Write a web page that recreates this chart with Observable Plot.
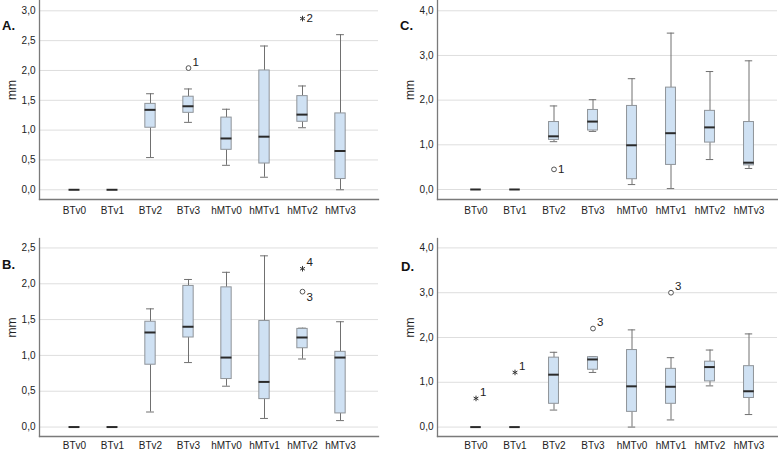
<!DOCTYPE html>
<html>
<head>
<meta charset="utf-8">
<script src="https://cdn.jsdelivr.net/npm/d3@7"></script>
<script src="https://cdn.jsdelivr.net/npm/@observablehq/plot@0.6"></script>
<style>
  html, body { margin: 0; padding: 0; background: #fff; }
  #root { position: relative; width: 778px; height: 451px; overflow: hidden; font-family: "Liberation Sans", Arial, sans-serif; }
  .panel { position: absolute; }
  .letter { position: absolute; font-weight: bold; font-size: 13px; color: #111; font-family: "Liberation Sans", Arial, sans-serif; }
</style>
</head>
<body>
<div id="root"></div>
<script>
// ---------- data ----------
const groups = ["BTv0", "BTv1", "BTv2", "BTv3", "hMTv0", "hMTv1", "hMTv2", "hMTv3"];

// Panel A
const aLow  = [0, 0, 0.54, 1.13, 0.41, 0.21, 1.04, 0.00];
const aQ1   = [0, 0, 1.04, 1.29, 0.67, 0.44, 1.14, 0.18];
const aMed  = [0, 0, 1.34, 1.40, 0.86, 0.89, 1.26, 0.65];
const aQ3   = [0, 0, 1.44, 1.56, 1.21, 2.00, 1.57, 1.28];
const aHigh = [0, 0, 1.61, 1.69, 1.35, 2.41, 1.74, 2.60];
const aOutGroup = ["BTv3", "hMTv2"];
const aOutValue = [2.04, 2.87];
const aOutShape = ["circle", "star"];
const aOutLabel = ["1", "2"];
const aTicks = [0, 0.5, 1, 1.5, 2, 2.5, 3];

// Panel B
const bLow  = [0, 0, 0.21, 0.90, 0.57, 0.12, 0.95, 0.09];
const bQ1   = [0, 0, 0.87, 1.25, 0.67, 0.39, 1.10, 0.19];
const bMed  = [0, 0, 1.32, 1.40, 0.97, 0.63, 1.25, 0.97];
const bQ3   = [0, 0, 1.47, 1.97, 1.95, 1.48, 1.37, 1.05];
const bHigh = [0, 0, 1.65, 2.06, 2.16, 2.39, 1.38, 1.47];
const bOutGroup = ["hMTv2", "hMTv2"];
const bOutValue = [2.21, 1.89];
const bOutShape = ["star", "circle"];
const bOutLabel = ["4", "3"];
const bTicks = [0, 0.5, 1, 1.5, 2, 2.5];

// Panel C
const cLow  = [0, 0, 1.07, 1.30, 0.11, 0.02, 0.67, 0.47];
const cQ1   = [0, 0, 1.11, 1.32, 0.23, 0.55, 1.05, 0.54];
const cMed  = [0, 0, 1.19, 1.52, 0.99, 1.26, 1.39, 0.60];
const cQ3   = [0, 0, 1.51, 1.78, 1.87, 2.28, 1.76, 1.51];
const cHigh = [0, 0, 1.87, 2.01, 2.48, 3.50, 2.64, 2.88];
const cOutGroup = ["BTv2"];
const cOutValue = [0.45];
const cOutShape = ["circle"];
const cOutLabel = ["1"];
const cTicks = [0, 1, 2, 3, 4];

// Panel D
const dLow  = [0, 0, 0.38, 1.22, 0.00, 0.16, 0.92, 0.28];
const dQ1   = [0, 0, 0.52, 1.28, 0.34, 0.52, 1.02, 0.65];
const dMed  = [0, 0, 1.17, 1.51, 0.91, 0.90, 1.34, 0.80];
const dQ3   = [0, 0, 1.55, 1.56, 1.72, 1.30, 1.46, 1.36];
const dHigh = [0, 0, 1.67, 1.57, 2.17, 1.55, 1.72, 2.08];
const dOutGroup = ["BTv0", "BTv1", "BTv3", "hMTv1"];
const dOutValue = [0.64, 1.22, 2.20, 3.00];
const dOutShape = ["star", "star", "circle", "circle"];
const dOutLabel = ["1", "1", "3", "3"];
const dTicks = [0, 1, 2, 3, 4];

// ---------- styling ----------
const FONT = '"Liberation Sans", Arial, sans-serif';
const BOX_FILL = "#cfe1f3";
const BOX_STROKE = "#8f9499";
const WHISKER = "#707070";
const MEDIAN = "#2a2a2a";
const AXIS = "#7a7a7a";
const GRID = "#dedede";
// label placement of outlier numbers: "ur" upper-right, "r" right, "lr" lower-right
const labelSide = { A: ["ur", "r"], B: ["ur", "lr"], C: ["r"], D: ["ur", "ur", "ur", "ur"] };
const nudges = { ur: [4, -6], r: [4, 0], lr: [4, 6] };
const fmt = d => d.toFixed(1).replace(".", ",");

const layout = {
  A: { left: 0,   top: 0,   width: 389, height: 225, mt: 0,  mb: 26, ml: 39, mr: 11, lo: -0.163, hi: 3.173, po: 0.444, align: 0.47, tp: 7 },
  C: { left: 389, top: 0,   width: 389, height: 225, mt: 0,  mb: 26, ml: 48, mr: 1,  lo: -0.224, hi: 4.23,  po: 0.296, align: 0.69, tp: 7 },
  B: { left: 0,   top: 225, width: 389, height: 226, mt: 13, mb: 15, ml: 39, mr: 11, lo: -0.132, hi: 2.632, po: 0.444, align: 0.47, tp: 5 },
  D: { left: 389, top: 225, width: 389, height: 226, mt: 13, mb: 15, ml: 48, mr: 1,  lo: -0.21,  hi: 4.21,  po: 0.296, align: 0.69, tp: 5 }
};
const letterPos = { A: [2, 18], C: [400, 18], B: [2, 257], D: [401, 259] };

function buildPanel(key, low, q1, med, q3, high, outGroup, outValue, outShape, outLabel, ticks) {
  const L = layout[key];
  const stats = groups.map((g, i) => ({ group: g, low: low[i], q1: q1[i], med: med[i], q3: q3[i], high: high[i] }));
  const outs = outGroup.map((g, i) => ({ group: g, value: outValue[i], shape: outShape[i], label: outLabel[i], side: labelSide[key][i] }));
  const innerW = L.width - L.ml - L.mr;
  const bw = innerW / (groups.length + 2 * L.po);
  const boxInset = (bw - 10.5) / 2;
  const capInset = (bw - 8) / 2;

  const labelMarks = Object.keys(nudges).map(side =>
    Plot.text(outs.filter(d => d.side === side), {
      x: "group", y: "value", text: "label", textAnchor: "start",
      dx: nudges[side][0], dy: nudges[side][1], fontSize: 11.5, fill: "#222"
    })
  );

  const chart = Plot.plot({
    width: L.width, height: L.height,
    marginTop: L.mt, marginBottom: L.mb, marginLeft: L.ml, marginRight: L.mr,
    style: { fontFamily: FONT, fontSize: "10px", color: "#222", background: "white", overflow: "visible" },
    x: { domain: groups, paddingInner: 0, paddingOuter: L.po, align: L.align },
    y: { domain: [L.lo, L.hi] },
    marks: [
      Plot.gridY(ticks, { stroke: GRID, strokeOpacity: 1 }),
      Plot.axisY({ ticks, tickSize: 0, tickPadding: 4, tickFormat: fmt, label: null, fontSize: 10 }),
      Plot.axisX({ tickSize: 0, tickPadding: L.tp, label: null, fontSize: 10 }),
      Plot.text(["mm"], { frameAnchor: "left", rotate: -90, dx: -27, fontSize: 12, fill: "#222" }),
      Plot.frame({ anchor: "left", stroke: AXIS, strokeWidth: 1.3 }),
      Plot.frame({ anchor: "bottom", stroke: AXIS, strokeWidth: 1.3 }),
      Plot.ruleX(stats, { x: "group", y1: "low", y2: "q1", stroke: WHISKER }),
      Plot.ruleX(stats, { x: "group", y1: "q3", y2: "high", stroke: WHISKER }),
      Plot.tickY(stats.filter(d => d.high > d.low), { x: "group", y: "low", stroke: WHISKER, insetLeft: capInset, insetRight: capInset }),
      Plot.tickY(stats.filter(d => d.high > d.low), { x: "group", y: "high", stroke: WHISKER, insetLeft: capInset, insetRight: capInset }),
      Plot.barY(stats.filter(d => d.q3 > d.q1), { x: "group", y1: "q1", y2: "q3", fill: BOX_FILL, stroke: BOX_STROKE, strokeWidth: 1, insetLeft: boxInset, insetRight: boxInset }),
      Plot.tickY(stats, { x: "group", y: "med", stroke: MEDIAN, strokeWidth: 2, insetLeft: boxInset - 0.3, insetRight: boxInset - 0.3 }),
      Plot.dot(outs.filter(d => d.shape === "circle"), { x: "group", y: "value", r: 2.4, stroke: "#555", strokeWidth: 1, fill: "white" }),
      Plot.dot(outs.filter(d => d.shape === "star"), { x: "group", y: "value", symbol: "asterisk", r: 2.6, stroke: "#333", strokeWidth: 1 }),
      ...labelMarks
    ]
  });

  const wrap = document.createElement("div");
  wrap.className = "panel";
  wrap.style.left = L.left + "px";
  wrap.style.top = L.top + "px";
  wrap.appendChild(chart);
  document.getElementById("root").appendChild(wrap);

  const letter = document.createElement("div");
  letter.className = "letter";
  letter.textContent = key + ".";
  letter.style.left = letterPos[key][0] + "px";
  letter.style.top = letterPos[key][1] + "px";
  document.getElementById("root").appendChild(letter);
}

buildPanel("A", aLow, aQ1, aMed, aQ3, aHigh, aOutGroup, aOutValue, aOutShape, aOutLabel, aTicks);
buildPanel("C", cLow, cQ1, cMed, cQ3, cHigh, cOutGroup, cOutValue, cOutShape, cOutLabel, cTicks);
buildPanel("B", bLow, bQ1, bMed, bQ3, bHigh, bOutGroup, bOutValue, bOutShape, bOutLabel, bTicks);
buildPanel("D", dLow, dQ1, dMed, dQ3, dHigh, dOutGroup, dOutValue, dOutShape, dOutLabel, dTicks);
</script>
</body>
</html>
